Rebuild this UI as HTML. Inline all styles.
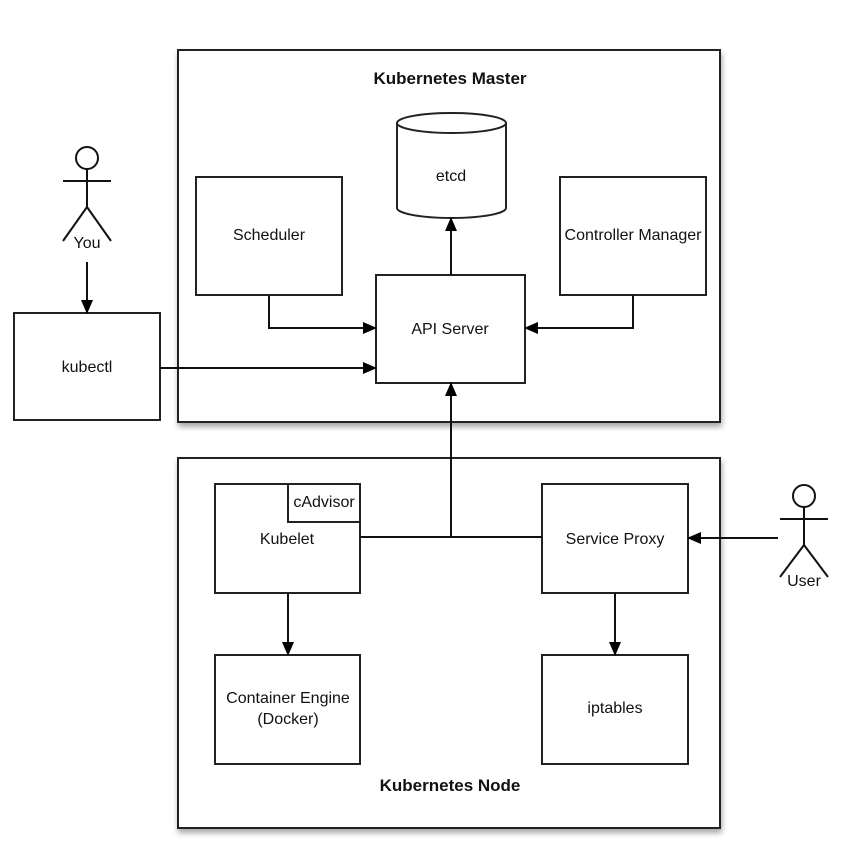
<!DOCTYPE html>
<html><head><meta charset="utf-8"><style>
html,body{margin:0;padding:0;background:#fff;}
svg{display:block;}
text{font-family:"Liberation Sans",sans-serif;font-size:16px;fill:#111;}
</style></head><body>
<svg width="859" height="856" viewBox="0 0 859 856" xmlns="http://www.w3.org/2000/svg">
<defs>
<filter id="sh" x="-5%" y="-5%" width="110%" height="110%"><feGaussianBlur in="SourceAlpha" stdDeviation="3"/><feOffset dx="1" dy="4"/><feComponentTransfer><feFuncA type="linear" slope="0.35"/></feComponentTransfer><feMerge><feMergeNode/><feMergeNode in="SourceGraphic"/></feMerge></filter>
<marker id="ar" markerWidth="14" markerHeight="12" refX="13" refY="6" orient="auto" markerUnits="userSpaceOnUse"><path d="M0,0 L14,6 L0,12 z" fill="#000"/></marker>
</defs>
<g stroke="#222" stroke-width="2" fill="#fff">
<rect x="178" y="50" width="542" height="372" filter="url(#sh)"/>
<rect x="178" y="458" width="542" height="370" filter="url(#sh)"/>
<rect x="196" y="177" width="146" height="118"/>
<rect x="560" y="177" width="146" height="118"/>
<rect x="376" y="275" width="149" height="108"/>
<rect x="14" y="313" width="146" height="107"/>
<path d="M397,123 L397,208 A54.5,10 0 0 0 506,208 L506,123"/>
<ellipse cx="451.5" cy="123" rx="54.5" ry="10"/>
<rect x="215" y="484" width="145" height="109"/>
<rect x="288" y="484" width="72" height="38"/>
<rect x="542" y="484" width="146" height="109"/>
<rect x="215" y="655" width="145" height="109"/>
<rect x="542" y="655" width="146" height="109"/>
</g>
<g stroke="#111" stroke-width="2" fill="none">
<circle cx="87" cy="158" r="11" fill="#fff"/>
<path d="M63,181 H111 M87,169 V207 L63,241 M87,207 L111,241"/>
<circle cx="804" cy="496" r="11" fill="#fff"/>
<path d="M780,519 H828 M804,507 V545 L780,577 M804,545 L828,577"/>
<path d="M87,262 V313" marker-end="url(#ar)"/>
<path d="M269,295 V328 H376" marker-end="url(#ar)"/>
<path d="M633,295 V328 H525" marker-end="url(#ar)"/>
<path d="M160,368 H376" marker-end="url(#ar)"/>
<path d="M451,275 V218" marker-end="url(#ar)"/>
<path d="M360,537 H542"/>
<path d="M451,537 V383" marker-end="url(#ar)"/>
<path d="M778,538 H688" marker-end="url(#ar)"/>
<path d="M288,593 V655" marker-end="url(#ar)"/>
<path d="M615,593 V655" marker-end="url(#ar)"/>
</g>
<g text-anchor="middle">
<text x="450" y="84" style="font-weight:bold;font-size:17px">Kubernetes Master</text>
<text x="450" y="791" style="font-weight:bold;font-size:17px">Kubernetes Node</text>
<text x="451" y="181">etcd</text>
<text x="269" y="240">Scheduler</text>
<text x="633" y="240">Controller Manager</text>
<text x="450" y="334">API Server</text>
<text x="87" y="372">kubectl</text>
<text x="87" y="248">You</text>
<text x="804" y="586">User</text>
<text x="324" y="507">cAdvisor</text>
<text x="287" y="544">Kubelet</text>
<text x="615" y="544">Service Proxy</text>
<text x="288" y="703">Container Engine</text>
<text x="288" y="724">(Docker)</text>
<text x="615" y="713">iptables</text>
</g>
</svg>
</body></html>
